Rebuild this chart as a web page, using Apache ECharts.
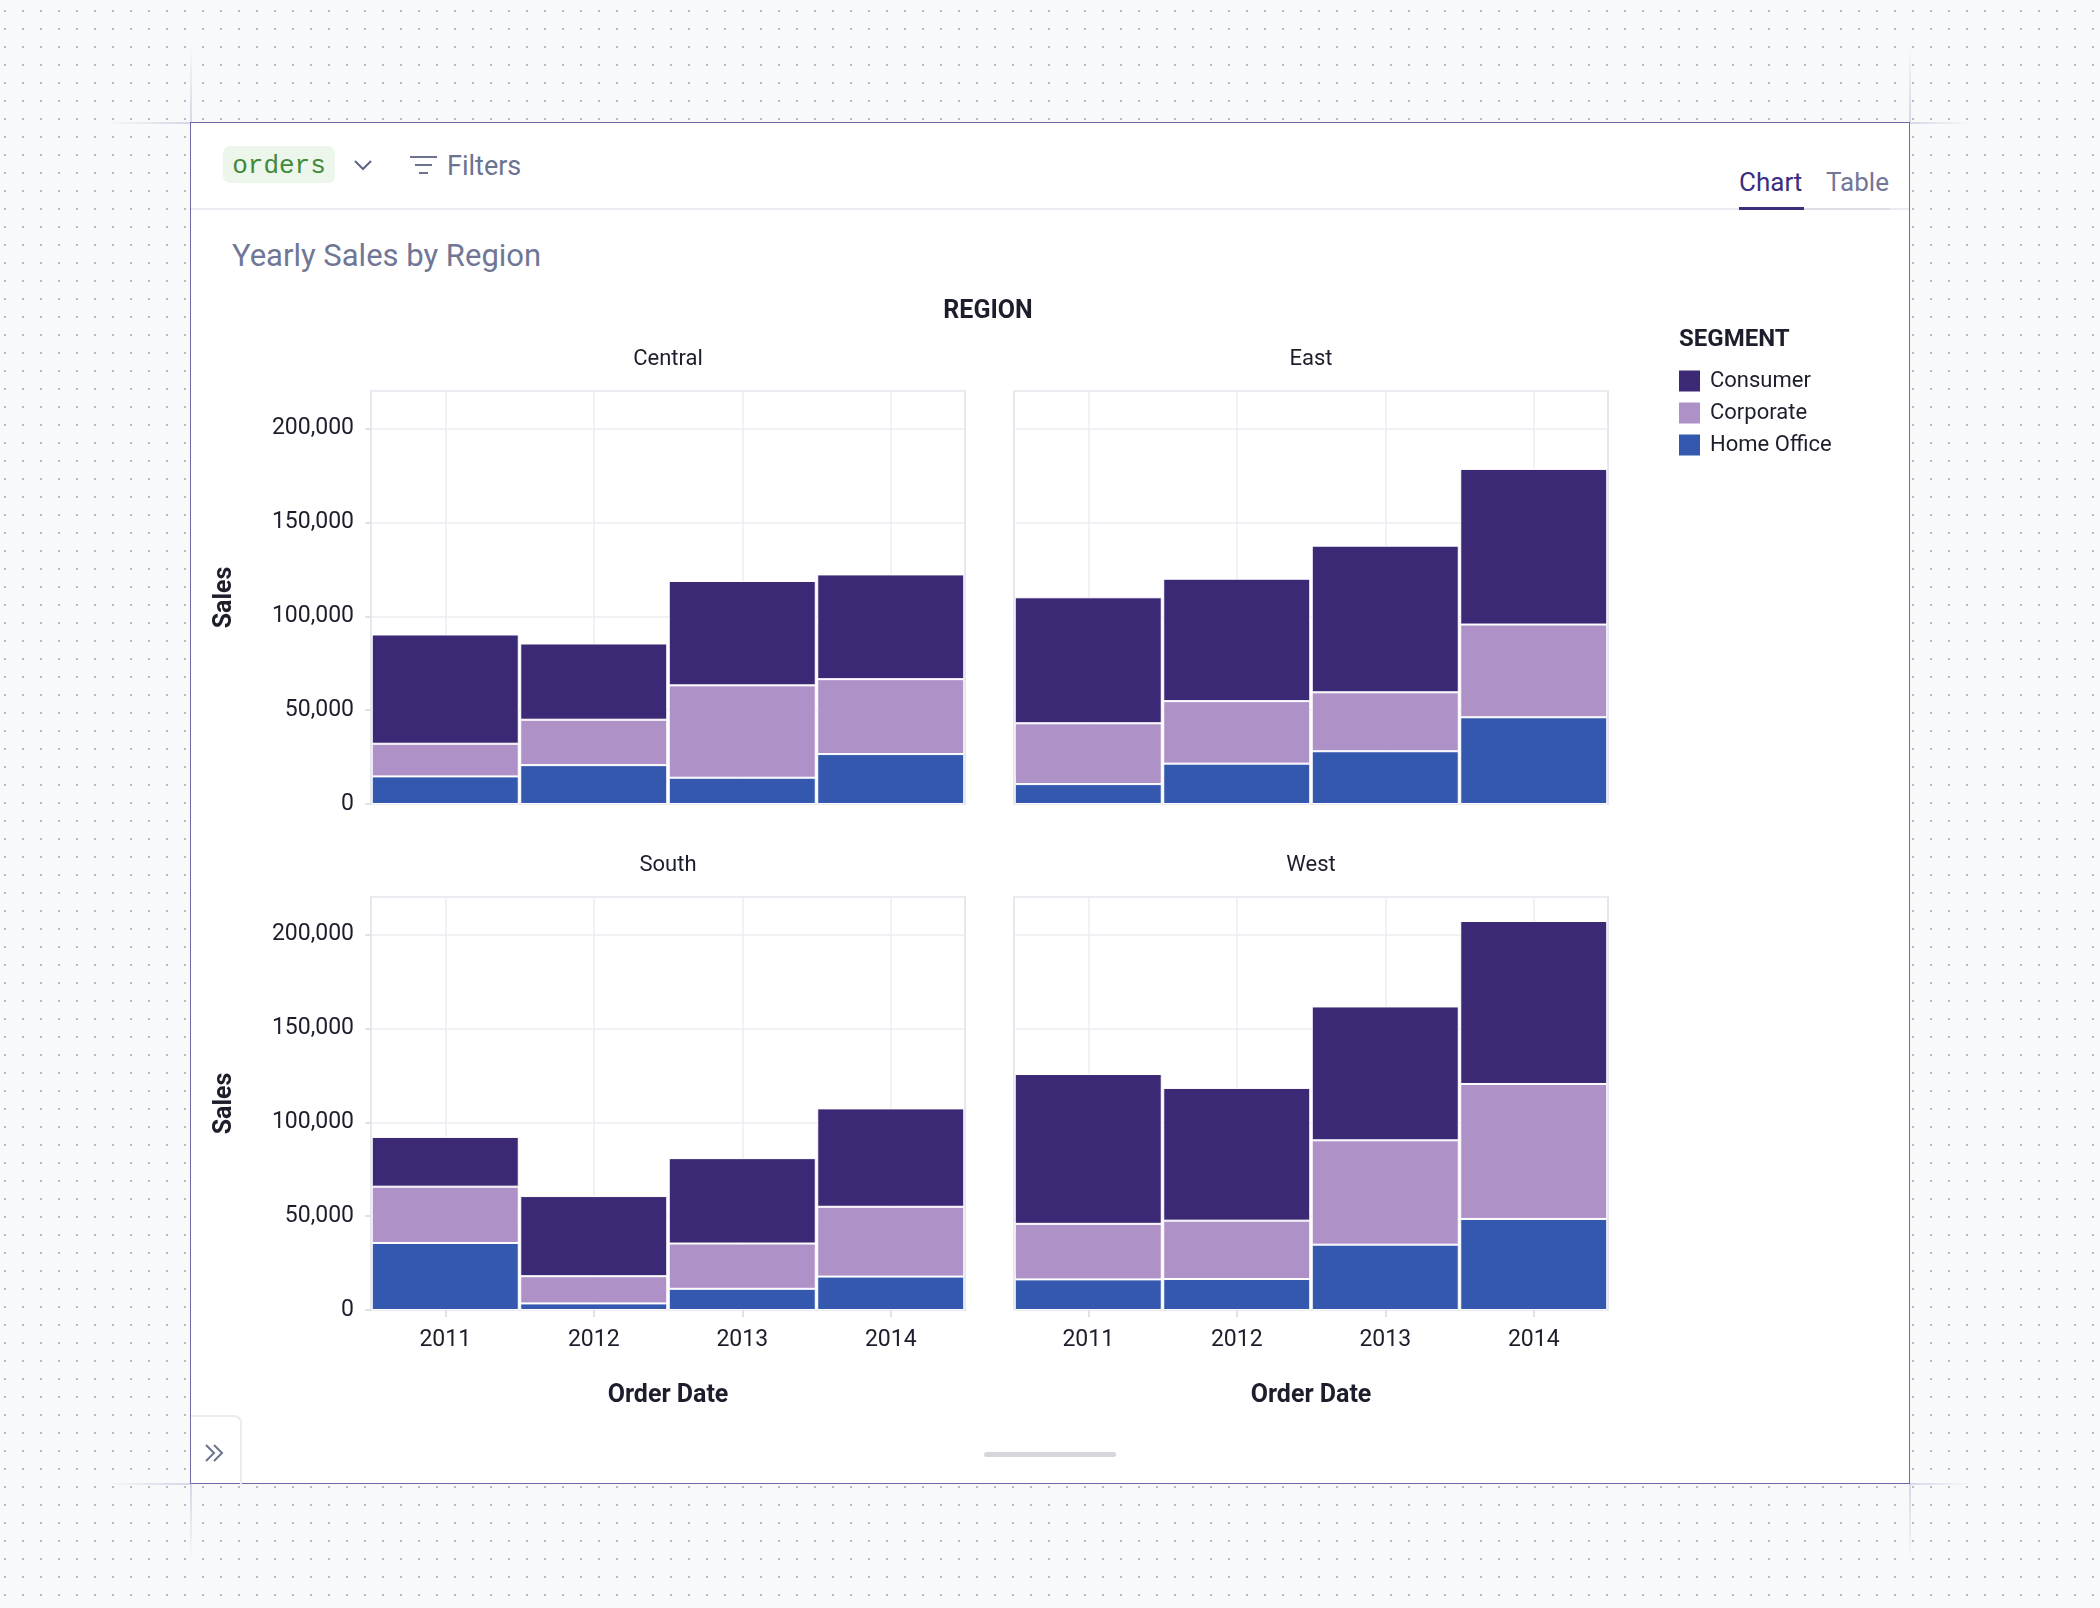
<!DOCTYPE html>
<html>
<head>
<meta charset="utf-8">
<title>Yearly Sales by Region</title>
<script src="https://cdn.jsdelivr.net/npm/echarts@6/dist/echarts.min.js"></script>
<style>
html, body { margin: 0; padding: 0; }
body {
	width: 2100px; height: 1608px; position: relative; overflow: hidden;
	background-color: #f8f9fb;
	background-image: radial-gradient(circle, #b9bbc2 1.1px, transparent 1.5px);
	background-size: 18px 18px;
	background-position: -4px 2px;
	font-family: Roboto, "Noto Sans", sans-serif;
}
.abs { position: absolute; }
.card { left: 190px; top: 122px; width: 1718px; height: 1360px; background: #fff; border: 1px solid #7068a8; }
.guide-v { width: 2px; background: linear-gradient(to bottom, rgba(214,214,230,0), #d6d6e6); }
.guide-v.down { background: linear-gradient(to top, rgba(214,214,230,0), #d6d6e6); }
.guide-h { height: 2px; background: linear-gradient(to right, rgba(214,214,230,0), #d6d6e6); }
.guide-h.right { background: linear-gradient(to left, rgba(214,214,230,0), #d6d6e6); }
.pill { left: 223px; top: 146px; width: 112px; height: 37px; background: #edf6ea; border-radius: 7px;
	color: #3f8a3b; font-family: "Liberation Mono", "DejaVu Sans Mono", monospace; font-size: 26px;
	line-height: 41px; text-align: center; overflow: hidden; }
.filters { left: 447px; top: 150px; height: 32px; line-height: 32px; font-size: 27px; color: #6b7391; }
.sep { left: 191px; top: 208px; width: 1718px; height: 2px; background: #ebebf1; }
.tab { top: 166px; height: 32px; line-height: 32px; font-size: 26px; }
.title { left: 232px; top: 237px; height: 38px; line-height: 38px; font-size: 31px; color: #707795; }
.collapse { left: 191px; top: 1415px; width: 49px; height: 68px; border-top: 2px solid #ebebf1; border-right: 2px solid #ebebf1; border-top-right-radius: 8px; }
.scroll { left: 984px; top: 1452px; width: 132px; height: 5px; border-radius: 3px; background: #d5d7dd; }
#chart { left: 0; top: 0; width: 2100px; height: 1608px; z-index: 2; }
</style>
</head>
<body>
<!-- guide lines around the card -->
<div class="abs guide-v" style="left:190px;top:46px;height:76px;"></div>
<div class="abs guide-h" style="left:104px;top:122px;width:86px;"></div>
<div class="abs guide-v" style="left:1909px;top:46px;height:76px;"></div>
<div class="abs guide-h right" style="left:1910px;top:122px;width:60px;"></div>
<div class="abs guide-v down" style="left:190px;top:1484px;height:76px;"></div>
<div class="abs guide-h" style="left:104px;top:1483px;width:86px;"></div>
<div class="abs guide-v down" style="left:1909px;top:1484px;height:76px;"></div>
<div class="abs guide-h right" style="left:1910px;top:1483px;width:60px;"></div>

<div class="abs card"></div>

<!-- header -->
<div class="abs pill">orders</div>
<svg class="abs" style="left:354px;top:160px;" width="18" height="12">
	<polyline points="1,1 9,9 17,1" fill="none" stroke="#5d6582" stroke-width="2"/>
</svg>
<svg class="abs" style="left:409px;top:155px;" width="30" height="20">
	<line x1="1" y1="2" x2="28" y2="2" stroke="#6b7391" stroke-width="2"/>
	<line x1="6" y1="10" x2="23" y2="10" stroke="#6b7391" stroke-width="2"/>
	<line x1="10" y1="18" x2="19" y2="18" stroke="#6b7391" stroke-width="2"/>
</svg>
<div class="abs filters">Filters</div>
<div class="abs sep"></div>
<div class="abs tab" style="left:1739px;color:#3b2e7e;">Chart</div>
<div class="abs tab" style="left:1826px;color:#717897;">Table</div>
<div class="abs" style="left:1739px;top:207px;width:65px;height:3px;background:#3b2e7e;"></div>
<div class="abs" style="left:1804px;top:208px;width:86px;height:2px;background:#dcdfe5;"></div>

<div class="abs title">Yearly Sales by Region</div>

<!-- footer -->
<div class="abs collapse"></div>
<svg class="abs" style="left:203px;top:1443px;" width="24" height="20">
	<polyline points="3,2 11,10 3,18" fill="none" stroke="#6b7391" stroke-width="2"/>
	<polyline points="11,2 19,10 11,18" fill="none" stroke="#6b7391" stroke-width="2"/>
</svg>
<div class="abs scroll"></div>

<div id="chart" class="abs"></div>

<script>
// 数据
var years = ['2011', '2012', '2013', '2014'];
var regions = ['Central', 'East', 'South', 'West'];
var segments = ['Consumer', 'Corporate', 'Home Office'];
var yTicks = [0, 50000, 100000, 150000, 200000];

var centralConsumer = [58200, 40600, 55600, 55800];
var centralCorporate = [17400, 24200, 49200, 39900];
var centralHomeOffice = [14700, 20700, 14000, 26600];

var eastConsumer = [67100, 65200, 78100, 82900];
var eastCorporate = [32400, 33300, 31400, 49400];
var eastHomeOffice = [10600, 21500, 28100, 46200];

var southConsumer = [26500, 42700, 45500, 52400];
var southCorporate = [30000, 14500, 24100, 37200];
var southHomeOffice = [35700, 3500, 11300, 17800];

var westConsumer = [79800, 70700, 71300, 86800];
var westCorporate = [29600, 31100, 55600, 71900];
var westHomeOffice = [16300, 16500, 34800, 48500];

var salesByRegion = {
	Central: [centralConsumer, centralCorporate, centralHomeOffice],
	East: [eastConsumer, eastCorporate, eastHomeOffice],
	South: [southConsumer, southCorporate, southHomeOffice],
	West: [westConsumer, westCorporate, westHomeOffice]
};

// 样式
var FONT = 'Roboto, "Noto Sans", sans-serif';
var TEXT = '#1d1e2c';
var GRID_LINE = '#ececf2';
var segmentColors = {
	'Consumer': '#3c2975',
	'Corporate': '#ae91c7',
	'Home Office': '#3358ae'
};
var yMax = 220000;
// [left, top, width, height]
var panelRects = [
	[371, 391, 594, 413],
	[1014, 391, 594, 413],
	[371, 897, 594, 413],
	[1014, 897, 594, 413]
];

var grids = [], xAxes = [], yAxes = [], series = [];
var graphics = [
	{ type: 'text', x: 988, y: 312, style: { text: 'REGION', font: 'bold 25px ' + FONT, fill: TEXT, textAlign: 'center', textVerticalAlign: 'middle' } },
	{ type: 'text', x: 1679, y: 340, style: { text: 'SEGMENT', font: 'bold 24px ' + FONT, fill: TEXT, textAlign: 'left', textVerticalAlign: 'middle' } }
];

regions.forEach(function (region, i) {
	var rect = panelRects[i];
	var isLeft = i % 2 === 0;
	var isBottom = i >= 2;

	grids.push({
		left: rect[0], top: rect[1], width: rect[2], height: rect[3],
		show: true, borderColor: '#e6e6ee', borderWidth: 2, backgroundColor: 'transparent'
	});

	xAxes.push({
		gridIndex: i,
		type: 'category',
		data: years,
		axisLine: { show: false },
		axisTick: { show: isBottom, alignWithLabel: true, length: 7, lineStyle: { color: '#d8d8e2', width: 1.5 } },
		axisLabel: { show: isBottom, margin: 19, fontSize: 23, color: TEXT, fontFamily: FONT },
		splitLine: { show: true, alignWithLabel: true, lineStyle: { color: GRID_LINE, width: 1.5 } },
		name: isBottom ? 'Order Date' : '',
		nameLocation: 'middle',
		nameGap: 73,
		nameTextStyle: { fontSize: 25, fontWeight: 'bold', color: TEXT, fontFamily: FONT }
	});

	yAxes.push({
		gridIndex: i,
		type: 'value',
		min: yTicks[0],
		max: yMax,
		interval: yTicks[1] - yTicks[0],
		axisLine: { show: false },
		axisTick: { show: isLeft, length: 6, lineStyle: { color: '#d8d8e2', width: 1.5 } },
		axisLabel: {
			show: isLeft, margin: 17, fontSize: 23, color: TEXT, fontFamily: FONT,
			padding: [5, 0, 0, 0],
			showMaxLabel: false,
			formatter: function (v) { return v.toLocaleString('en-US'); }
		},
		splitLine: { show: true, lineStyle: { color: GRID_LINE, width: 1.5 } },
		name: isLeft ? 'Sales' : '',
		nameLocation: 'middle',
		nameGap: 134,
		nameRotate: 90,
		nameTextStyle: { fontSize: 25, fontWeight: 'bold', color: TEXT, fontFamily: FONT }
	});

	// 堆叠顺序：Home Office 在下，Consumer 在上
	var values = salesByRegion[region];
	[2, 1, 0].forEach(function (k) {
		series.push({
			type: 'bar',
			name: segments[k],
			xAxisIndex: i,
			yAxisIndex: i,
			stack: 'region' + i,
			data: values[k],
			barCategoryGap: '1%',
			itemStyle: { color: segmentColors[segments[k]], borderColor: '#ffffff', borderWidth: 1 },
			emphasis: { disabled: true }
		});
	});

	graphics.push({
		type: 'text',
		x: rect[0] + rect[2] / 2,
		y: rect[1] - 32,
		style: { text: region, font: '22px ' + FONT, fill: TEXT, textAlign: 'center', textVerticalAlign: 'middle' }
	});
});

var chart = echarts.init(document.getElementById('chart'), null, { renderer: 'canvas' });
chart.setOption({
	animation: false,
	backgroundColor: 'transparent',
	textStyle: { fontFamily: FONT },
	grid: grids,
	xAxis: xAxes,
	yAxis: yAxes,
	legend: {
		data: segments,
		orient: 'vertical',
		left: 1679,
		top: 370,
		padding: 0,
		icon: 'rect',
		itemWidth: 21,
		itemHeight: 21,
		itemGap: 10,
		itemStyle: { borderWidth: 0 },
		textStyle: { fontSize: 22, color: TEXT, fontFamily: FONT, padding: [0, 0, 0, 5] },
		selectedMode: false
	},
	tooltip: { show: false },
	graphic: graphics,
	series: series
});
</script>
</body>
</html>
